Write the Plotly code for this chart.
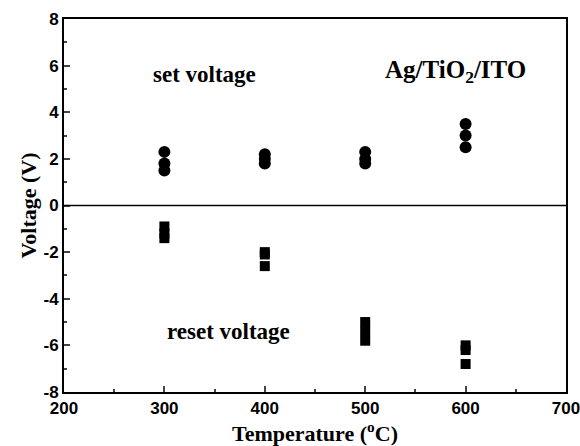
import plotly.graph_objects as go

set_temp = [300, 300, 300, 400, 400, 400, 500, 500, 500, 600, 600, 600]
set_volt = [2.3, 1.8, 1.5, 2.2, 2.0, 1.8, 2.3, 2.0, 1.8, 3.5, 3.0, 2.5]
reset_temp = [300, 300, 300, 400, 400, 400, 500, 500, 500, 600, 600, 600]
reset_volt = [-0.9, -1.2, -1.4, -2.0, -2.1, -2.6, -5.0, -5.4, -5.8, -6.0, -6.2, -6.8]

x_ticks = [200, 300, 400, 500, 600, 700]
y_ticks = [-8, -6, -4, -2, 0, 2, 4, 6, 8]
y_labels = ["-8", "-6", "-4", "-2", "0", "2", "4", "6", "8"]

fig = go.Figure()
fig.add_trace(go.Scatter(x=set_temp, y=set_volt, mode="markers",
                         marker=dict(symbol="circle", size=12, color="black"),
                         showlegend=False, cliponaxis=False))
fig.add_trace(go.Scatter(x=reset_temp, y=reset_volt, mode="markers",
                         marker=dict(symbol="square", size=10, color="black"),
                         showlegend=False, cliponaxis=False))

fig.add_hline(y=0, line=dict(color="black", width=1.5))

serif = "Liberation Serif, Times New Roman, serif"
sans = "Liberation Sans, Arial, sans-serif"

fig.add_annotation(x=340, y=5.64, text="<b>set voltage</b>", showarrow=False,
                   font=dict(family=serif, size=23, color="black"))
fig.add_annotation(x=590, y=5.73, text="<b>Ag/TiO<sub>2</sub>/ITO</b>", showarrow=False,
                   font=dict(family=serif, size=25, color="black"))
fig.add_annotation(x=364, y=-5.39, text="<b>reset voltage</b>", showarrow=False,
                   font=dict(family=serif, size=23, color="black"))

fig.update_xaxes(range=[200, 700], tickvals=x_ticks, ticks="inside", ticklen=6, tickwidth=2,
                 showline=True, linewidth=2, linecolor="black", mirror=True,
                 showgrid=False, zeroline=False, automargin=False,
                 ticklabeloverflow="allow",
                 minor=dict(ticks="inside", ticklen=3, tickwidth=1.5, dtick=50, showgrid=False),
                 tickfont=dict(family=sans, size=17, color="black", weight="bold"),
                 title=dict(text="<b>Temperature (<sup>o</sup>C)</b>", standoff=3,
                            font=dict(family=serif, size=22, color="black")))
fig.update_yaxes(range=[-8, 8], tickvals=y_ticks, ticktext=y_labels, ticks="inside",
                 ticklen=6, tickwidth=2,
                 showline=True, linewidth=2, linecolor="black", mirror=True,
                 showgrid=False, zeroline=False, automargin=False,
                 ticklabeloverflow="allow",
                 minor=dict(ticks="inside", ticklen=3, tickwidth=1.5, dtick=1, showgrid=False),
                 tickfont=dict(family=sans, size=17, color="black", weight="bold"),
                 title=dict(text="<b>Voltage (V)</b>", standoff=1,
                            font=dict(family=serif, size=22, color="black")))

fig.update_layout(width=580, height=446, margin=dict(l=64, r=14, t=19, b=54),
                  plot_bgcolor="white", paper_bgcolor="white")

fig.write_html("out.html", config={"displayModeBar": False},
               post_script="document.body.style.margin='0';document.body.style.overflow='hidden';")
